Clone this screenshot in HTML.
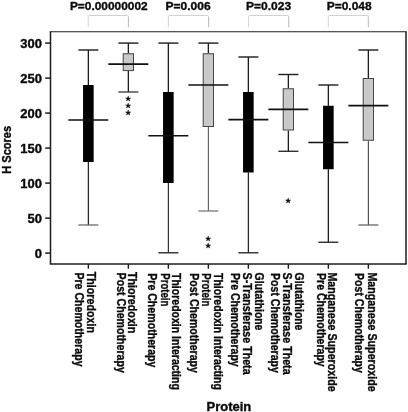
<!DOCTYPE html>
<html><head><meta charset="utf-8"><title>H Scores by Protein</title>
<style>html,body{margin:0;padding:0;background:#fff;}svg{display:block;will-change:transform;opacity:0.999;}text{font-family:"Liberation Sans",Arial,sans-serif;font-weight:bold;fill:#0a0a0a;stroke:#0a0a0a;stroke-width:0.35px;stroke-linejoin:round;}</style>
</head><body>
<svg width="408" height="412" viewBox="0 0 408 412">
<rect x="0" y="0" width="408" height="412" fill="#fff"/>
<path d="M88.2,27.3 L88.2,16.6 Q88.2,15.5 89.3,15.5 L127.30000000000001,15.5 Q128.4,15.5 128.4,16.6" fill="none" stroke="#c6c6c6" stroke-width="0.8"/>
<path d="M128.4,16.6 L128.4,27.3" fill="none" stroke="#a4a4a4" stroke-width="0.8"/>
<path d="M168.4,27.3 L168.4,16.6 Q168.4,15.5 169.5,15.5 L207.5,15.5 Q208.6,15.5 208.6,16.6" fill="none" stroke="#c6c6c6" stroke-width="0.8"/>
<path d="M208.6,16.6 L208.6,27.3" fill="none" stroke="#a4a4a4" stroke-width="0.8"/>
<path d="M248.6,27.3 L248.6,16.6 Q248.6,15.5 249.7,15.5 L287.7,15.5 Q288.8,15.5 288.8,16.6" fill="none" stroke="#c6c6c6" stroke-width="0.8"/>
<path d="M288.8,16.6 L288.8,27.3" fill="none" stroke="#a4a4a4" stroke-width="0.8"/>
<path d="M328.3,27.3 L328.3,16.6 Q328.3,15.5 329.40000000000003,15.5 L367.2,15.5 Q368.3,15.5 368.3,16.6" fill="none" stroke="#c6c6c6" stroke-width="0.8"/>
<path d="M368.3,16.6 L368.3,27.3" fill="none" stroke="#a4a4a4" stroke-width="0.8"/>
<text x="108.80" y="10.2" font-size="11.8" text-anchor="middle" textLength="77.8" lengthAdjust="spacingAndGlyphs">P=0.00000002</text>
<text x="188.10" y="10.2" font-size="11.8" text-anchor="middle" textLength="45.2" lengthAdjust="spacingAndGlyphs">P=0.006</text>
<text x="268.60" y="10.2" font-size="11.8" text-anchor="middle" textLength="45.2" lengthAdjust="spacingAndGlyphs">P=0.023</text>
<text x="349.15" y="10.2" font-size="11.8" text-anchor="middle" textLength="44.9" lengthAdjust="spacingAndGlyphs">P=0.048</text>
<line x1="88.35" y1="50" x2="88.35" y2="85" stroke="#1c1c1c" stroke-width="1.3"/>
<line x1="88.35" y1="162" x2="88.35" y2="225" stroke="#1c1c1c" stroke-width="1.2"/>
<line x1="78.35" y1="50" x2="98.35" y2="50" stroke="#1c1c1c" stroke-width="1.4"/>
<line x1="78.35" y1="225" x2="98.35" y2="225" stroke="#6a6a6a" stroke-width="1.3"/>
<rect x="83.05" y="85" width="10.6" height="77.00" fill="#000"/>
<line x1="68.35" y1="120" x2="108.35" y2="120" stroke="#111" stroke-width="1.7"/>
<line x1="128.35" y1="43.1" x2="128.35" y2="53.25" stroke="#1c1c1c" stroke-width="1.3"/>
<line x1="128.35" y1="71.1" x2="128.35" y2="92" stroke="#1c1c1c" stroke-width="1.3"/>
<line x1="118.35" y1="43.1" x2="138.35" y2="43.1" stroke="#1c1c1c" stroke-width="1.4"/>
<line x1="118.35" y1="92" x2="138.35" y2="92" stroke="#333" stroke-width="1.3"/>
<rect x="123.20" y="53.75" width="10.3" height="16.85" fill="#c9c9c9" stroke="#444" stroke-width="1"/>
<line x1="108.35" y1="64.1" x2="148.35" y2="64.1" stroke="#111" stroke-width="1.7"/>
<text x="128.35" y="101.40" font-size="6.5" text-anchor="middle" style="font-weight:normal">★</text>
<text x="128.35" y="108.40" font-size="6.5" text-anchor="middle" style="font-weight:normal">★</text>
<text x="128.35" y="115.40" font-size="6.5" text-anchor="middle" style="font-weight:normal">★</text>
<line x1="168.35" y1="43.1" x2="168.35" y2="92" stroke="#1c1c1c" stroke-width="1.3"/>
<line x1="168.35" y1="183" x2="168.35" y2="252.8" stroke="#1c1c1c" stroke-width="1.1"/>
<line x1="158.35" y1="43.1" x2="178.35" y2="43.1" stroke="#1c1c1c" stroke-width="1.4"/>
<line x1="158.35" y1="252.8" x2="178.35" y2="252.8" stroke="#1c1c1c" stroke-width="1.3"/>
<rect x="163.05" y="92" width="10.6" height="91.00" fill="#000"/>
<line x1="148.35" y1="135.75" x2="188.35" y2="135.75" stroke="#111" stroke-width="1.7"/>
<line x1="208.35" y1="43.1" x2="208.35" y2="53.25" stroke="#1c1c1c" stroke-width="1.3"/>
<line x1="208.35" y1="127" x2="208.35" y2="211" stroke="#4a4a4a" stroke-width="1.0"/>
<line x1="198.35" y1="43.1" x2="218.35" y2="43.1" stroke="#1c1c1c" stroke-width="1.4"/>
<line x1="198.35" y1="211" x2="218.35" y2="211" stroke="#777" stroke-width="1.3"/>
<rect x="203.20" y="53.75" width="10.3" height="72.75" fill="#c9c9c9" stroke="#444" stroke-width="1"/>
<line x1="188.35" y1="85" x2="228.35" y2="85" stroke="#111" stroke-width="1.7"/>
<text x="208.35" y="241.40" font-size="6.5" text-anchor="middle" style="font-weight:normal">★</text>
<text x="208.35" y="248.40" font-size="6.5" text-anchor="middle" style="font-weight:normal">★</text>
<line x1="248.35" y1="57" x2="248.35" y2="92" stroke="#1c1c1c" stroke-width="1.3"/>
<line x1="248.35" y1="172.5" x2="248.35" y2="252.8" stroke="#1c1c1c" stroke-width="1.2"/>
<line x1="238.35" y1="57" x2="258.35" y2="57" stroke="#1c1c1c" stroke-width="1.4"/>
<line x1="238.35" y1="252.8" x2="258.35" y2="252.8" stroke="#1c1c1c" stroke-width="1.3"/>
<rect x="243.05" y="92" width="10.6" height="80.50" fill="#000"/>
<line x1="228.35" y1="119.7" x2="268.35" y2="119.7" stroke="#111" stroke-width="1.7"/>
<line x1="288.35" y1="74.5" x2="288.35" y2="88.25" stroke="#1c1c1c" stroke-width="1.3"/>
<line x1="288.35" y1="130.5" x2="288.35" y2="151.25" stroke="#1c1c1c" stroke-width="1.3"/>
<line x1="278.35" y1="74.5" x2="298.35" y2="74.5" stroke="#1c1c1c" stroke-width="1.4"/>
<line x1="278.35" y1="151.25" x2="298.35" y2="151.25" stroke="#1c1c1c" stroke-width="1.3"/>
<rect x="283.20" y="88.75" width="10.3" height="41.25" fill="#c9c9c9" stroke="#444" stroke-width="1"/>
<line x1="268.35" y1="109.4" x2="308.35" y2="109.4" stroke="#111" stroke-width="1.7"/>
<text x="288.35" y="203.15" font-size="6.5" text-anchor="middle" style="font-weight:normal">★</text>
<line x1="328.35" y1="85" x2="328.35" y2="105.75" stroke="#1c1c1c" stroke-width="1.3"/>
<line x1="328.35" y1="169.25" x2="328.35" y2="242.25" stroke="#1c1c1c" stroke-width="1.3"/>
<line x1="318.35" y1="85" x2="338.35" y2="85" stroke="#1c1c1c" stroke-width="1.4"/>
<line x1="318.35" y1="242.25" x2="338.35" y2="242.25" stroke="#1c1c1c" stroke-width="1.3"/>
<rect x="323.05" y="105.75" width="10.6" height="63.50" fill="#000"/>
<line x1="308.35" y1="142.5" x2="348.35" y2="142.5" stroke="#111" stroke-width="1.7"/>
<line x1="368.35" y1="50" x2="368.35" y2="78" stroke="#1c1c1c" stroke-width="1.3"/>
<line x1="368.35" y1="140.75" x2="368.35" y2="225" stroke="#3a3a3a" stroke-width="1.05"/>
<line x1="358.35" y1="50" x2="378.35" y2="50" stroke="#1c1c1c" stroke-width="1.4"/>
<line x1="358.35" y1="225" x2="378.35" y2="225" stroke="#666" stroke-width="1.3"/>
<rect x="363.20" y="78.5" width="10.3" height="61.75" fill="#c9c9c9" stroke="#444" stroke-width="1"/>
<line x1="348.35" y1="105.6" x2="388.35" y2="105.6" stroke="#111" stroke-width="1.7"/>
<line x1="49.75" y1="31.7" x2="406.75" y2="31.7" stroke="#1c1c1c" stroke-width="1.1"/>
<line x1="49.75" y1="264.1" x2="406.75" y2="264.1" stroke="#1c1c1c" stroke-width="1.5"/>
<line x1="50.5" y1="31.7" x2="50.5" y2="264.1" stroke="#1c1c1c" stroke-width="1.5"/>
<line x1="406.0" y1="31.7" x2="406.0" y2="264.1" stroke="#1c1c1c" stroke-width="1.5"/>
<line x1="45.2" y1="253.10" x2="50.5" y2="253.10" stroke="#1c1c1c" stroke-width="1.5"/>
<text transform="translate(41.9,257.60) scale(1.083,1)" font-size="12" text-anchor="end">0</text>
<line x1="45.2" y1="218.10" x2="50.5" y2="218.10" stroke="#1c1c1c" stroke-width="1.5"/>
<text transform="translate(41.9,222.60) scale(1.083,1)" font-size="12" text-anchor="end">50</text>
<line x1="45.2" y1="183.10" x2="50.5" y2="183.10" stroke="#1c1c1c" stroke-width="1.5"/>
<text transform="translate(41.9,187.60) scale(1.083,1)" font-size="12" text-anchor="end">100</text>
<line x1="45.2" y1="148.10" x2="50.5" y2="148.10" stroke="#1c1c1c" stroke-width="1.5"/>
<text transform="translate(41.9,152.60) scale(1.083,1)" font-size="12" text-anchor="end">150</text>
<line x1="45.2" y1="113.10" x2="50.5" y2="113.10" stroke="#1c1c1c" stroke-width="1.5"/>
<text transform="translate(41.9,117.60) scale(1.083,1)" font-size="12" text-anchor="end">200</text>
<line x1="45.2" y1="78.10" x2="50.5" y2="78.10" stroke="#1c1c1c" stroke-width="1.5"/>
<text transform="translate(41.9,82.60) scale(1.083,1)" font-size="12" text-anchor="end">250</text>
<line x1="45.2" y1="43.10" x2="50.5" y2="43.10" stroke="#1c1c1c" stroke-width="1.5"/>
<text transform="translate(41.9,47.60) scale(1.083,1)" font-size="12" text-anchor="end">300</text>
<line x1="88.35" y1="264.1" x2="88.35" y2="268.7" stroke="#1c1c1c" stroke-width="1.4"/>
<line x1="128.35" y1="264.1" x2="128.35" y2="268.7" stroke="#1c1c1c" stroke-width="1.4"/>
<line x1="168.35" y1="264.1" x2="168.35" y2="268.7" stroke="#1c1c1c" stroke-width="1.4"/>
<line x1="208.35" y1="264.1" x2="208.35" y2="268.7" stroke="#1c1c1c" stroke-width="1.4"/>
<line x1="248.35" y1="264.1" x2="248.35" y2="268.7" stroke="#1c1c1c" stroke-width="1.4"/>
<line x1="288.35" y1="264.1" x2="288.35" y2="268.7" stroke="#1c1c1c" stroke-width="1.4"/>
<line x1="328.35" y1="264.1" x2="328.35" y2="268.7" stroke="#1c1c1c" stroke-width="1.4"/>
<line x1="368.35" y1="264.1" x2="368.35" y2="268.7" stroke="#1c1c1c" stroke-width="1.4"/>
<text transform="translate(11.3,149.8) rotate(-90) scale(0.92,1.05)" font-size="12" text-anchor="middle">H Scores</text>
<text transform="translate(228.9,410.9) scale(1.083,1)" font-size="12" text-anchor="middle">Protein</text>
<text transform="translate(86.8,271.80) rotate(90)" font-size="13" textLength="61.1" lengthAdjust="spacingAndGlyphs">Thioredoxin</text>
<text transform="translate(75.2,272.40) rotate(90)" font-size="13" textLength="94.2" lengthAdjust="spacingAndGlyphs">Pre Chemotherapy</text>
<text transform="translate(128.2,272.00) rotate(90)" font-size="13" textLength="61.4" lengthAdjust="spacingAndGlyphs">Thioredoxin</text>
<text transform="translate(116.5,272.60) rotate(90)" font-size="13" textLength="100.3" lengthAdjust="spacingAndGlyphs">Post Chemotherapy</text>
<text transform="translate(171.6,273.00) rotate(90)" font-size="13" textLength="116.9" lengthAdjust="spacingAndGlyphs">Thioredoxin Interacting</text>
<text transform="translate(160.6,273.20) rotate(90)" font-size="13" textLength="33.2" lengthAdjust="spacingAndGlyphs">Protein</text>
<text transform="translate(147.7,273.20) rotate(90)" font-size="13" textLength="94.2" lengthAdjust="spacingAndGlyphs">Pre Chemotherapy</text>
<text transform="translate(213.7,273.00) rotate(90)" font-size="13" textLength="116.9" lengthAdjust="spacingAndGlyphs">Thioredoxin Interacting</text>
<text transform="translate(201.8,273.20) rotate(90)" font-size="13" textLength="33.2" lengthAdjust="spacingAndGlyphs">Protein</text>
<text transform="translate(190.4,273.20) rotate(90)" font-size="13" textLength="99.7" lengthAdjust="spacingAndGlyphs">Post Chemotherapy</text>
<text transform="translate(254.5,272.60) rotate(90)" font-size="13" textLength="57.8" lengthAdjust="spacingAndGlyphs">Glutathione</text>
<text transform="translate(243.2,272.60) rotate(90)" font-size="13" textLength="102.0" lengthAdjust="spacingAndGlyphs">S-Transferase Theta</text>
<text transform="translate(231.0,273.00) rotate(90)" font-size="13" textLength="93.7" lengthAdjust="spacingAndGlyphs">Pre Chemotherapy</text>
<text transform="translate(294.5,272.60) rotate(90)" font-size="13" textLength="57.8" lengthAdjust="spacingAndGlyphs">Glutathione</text>
<text transform="translate(283.2,272.60) rotate(90)" font-size="13" textLength="102.0" lengthAdjust="spacingAndGlyphs">S-Transferase Theta</text>
<text transform="translate(271.0,273.00) rotate(90)" font-size="13" textLength="99.9" lengthAdjust="spacingAndGlyphs">Post Chemotherapy</text>
<text transform="translate(328.2,272.40) rotate(90)" font-size="13" textLength="119.2" lengthAdjust="spacingAndGlyphs">Manganese Superoxide</text>
<text transform="translate(316.5,273.00) rotate(90)" font-size="13" textLength="93.7" lengthAdjust="spacingAndGlyphs">Pre Chemotherapy</text>
<text transform="translate(367.9,272.40) rotate(90)" font-size="13" textLength="119.2" lengthAdjust="spacingAndGlyphs">Manganese Superoxide</text>
<text transform="translate(355.0,273.00) rotate(90)" font-size="13" textLength="99.9" lengthAdjust="spacingAndGlyphs">Post Chemotherapy</text>
</svg>
</body></html>
